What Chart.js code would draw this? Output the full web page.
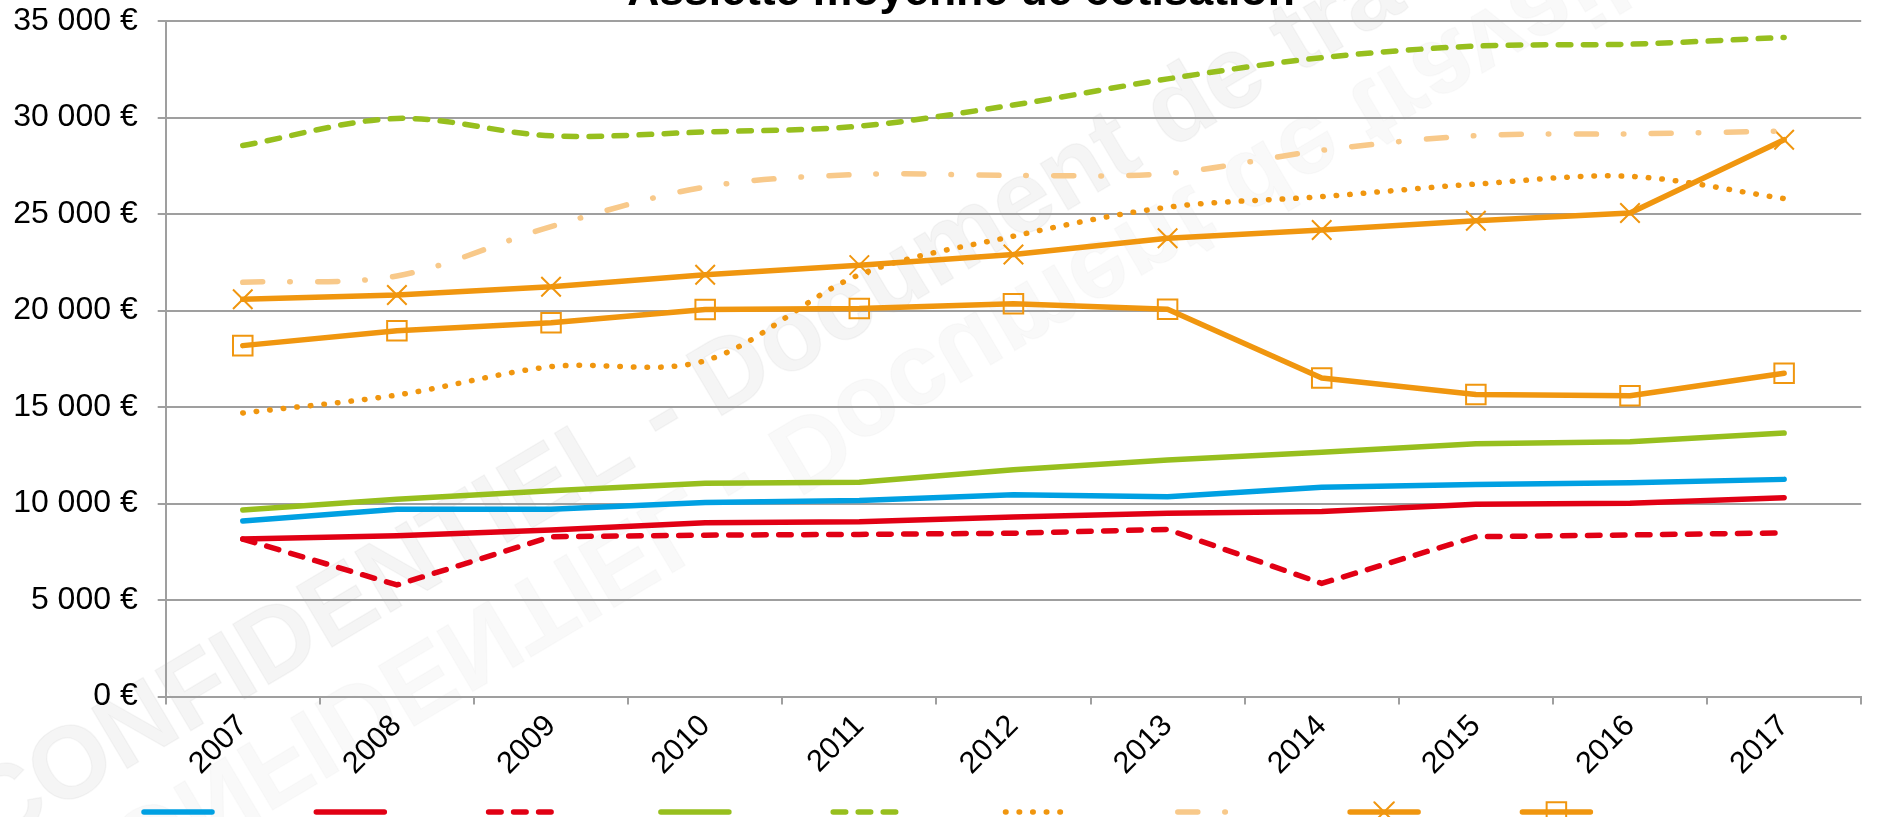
<!DOCTYPE html>
<html>
<head>
<meta charset="utf-8">
<script src="https://cdn.jsdelivr.net/npm/chart.js@4.4.0/dist/chart.umd.min.js"></script>
<style>
  html, body { margin: 0; padding: 0; background: #fff; overflow: hidden; width: 1877px; height: 817px; }
  #wrap { position: absolute; left: 0; top: -40px; width: 1877px; height: 857px; }
  canvas { display: block; }
</style>
</head>
<body>
<div id="wrap"><canvas id="chart" width="1877" height="857" style="width:1877px;height:857px"></canvas></div>
<script>
// ---------- DATA ----------
const categories = ['2007', '2008', '2009', '2010', '2011', '2012', '2013', '2014', '2015', '2016', '2017'];

const serieBleue        = [9090, 9700, 9700, 10050, 10150, 10450, 10350, 10840, 10990, 11080, 11250];
const serieRouge        = [8160, 8330, 8630, 9000, 9050, 9300, 9490, 9580, 9960, 10010, 10300];
const serieRougeTirets  = [8160, 5780, 8280, 8360, 8400, 8460, 8660, 5860, 8280, 8370, 8480];
const serieVerte        = [9660, 10220, 10660, 11050, 11100, 11750, 12250, 12650, 13100, 13200, 13650];
const serieVerteTirets  = [28550, 29950, 29050, 29250, 29550, 30650, 32000, 33100, 33700, 33800, 34150];
const serieOrangePoints = [14690, 15620, 17090, 17400, 21850, 23850, 25350, 25900, 26550, 26950, 25800];
const serieOrangeClair  = [21460, 21790, 24350, 26400, 27050, 27000, 27100, 28300, 29060, 29150, 29300];
const serieOrangeCroix  = [20580, 20800, 21230, 21850, 22350, 22900, 23740, 24170, 24650, 25050, 28850];
const serieOrangeCarres = [18180, 18950, 19370, 20050, 20100, 20350, 20060, 16500, 15650, 15580, 16750];

const yMin = 0, yMax = 35000, yStep = 5000;
const titre = 'Assiette moyenne de cotisation';
const filigrane = 'CONFIDENTIEL - Document de travail';

// ---------- STYLE ----------
const FONT = '"Liberation Sans", Arial, Helvetica, sans-serif';
const GRID = '#9f9f9f';
const BLUE = '#00A0E2', RED = '#E10014', GREEN = '#97BF1E', ORANGE = '#F0960F', LORANGE = '#F8C98A';
const LW = 5.5;

function ds(label, data, color, extra) {
  return Object.assign({
    label: label,
    data: data,
    borderColor: color,
    backgroundColor: color,
    borderWidth: LW,
    borderCapStyle: 'round',
    borderJoinStyle: 'round',
    pointRadius: 0,
    pointStyle: false,
    tension: 0,
    fill: false
  }, extra || {});
}

const datasets = [
  ds('Série 1', serieBleue, BLUE),
  ds('Série 2', serieRouge, RED),
  ds('Série 3', serieRougeTirets, RED, { borderDash: [12.5, 12.5] }),
  ds('Série 4', serieVerte, GREEN),
  ds('Série 5', serieVerteTirets, GREEN, { borderDash: [12.5, 12.5], tension: 0.33 }),
  ds('Série 6', serieOrangePoints, ORANGE, { borderDash: [0.5, 13.1], tension: 0.33 }),
  ds('Série 7', serieOrangeClair, LORANGE, { borderDash: [20, 27, 0.5, 27.5], tension: 0.33 }),
  ds('Série 8', serieOrangeCroix, ORANGE, { pointStyle: 'crossRot', pointRadius: 13.8, pointBorderWidth: 2, pointBorderColor: ORANGE, pointBackgroundColor: 'rgba(0,0,0,0)' }),
  ds('Série 9', serieOrangeCarres, ORANGE, { pointStyle: 'rect', pointRadius: 13.8, pointBorderWidth: 2, pointBorderColor: ORANGE, pointBackgroundColor: 'rgba(0,0,0,0)' })
];

function fmtEuro(v) {
  return String(v).replace(/\B(?=(\d{3})+(?!\d))/g, ' ') + ' €';
}

// background + watermark
const bgPlugin = {
  id: 'bg',
  beforeDraw(chart) {
    const ctx = chart.ctx;
    ctx.save();
    ctx.fillStyle = '#ffffff';
    ctx.fillRect(0, 0, chart.width, chart.height);
    ctx.translate(-10, 890);
    ctx.rotate(-30.7 * Math.PI / 180);
    ctx.font = 'bold 102px ' + FONT;
    ctx.textBaseline = 'alphabetic';
    ctx.textAlign = 'left';
    ctx.fillStyle = 'rgba(0,0,0,0.04)';
    ctx.strokeStyle = 'rgba(0,0,0,0.035)';
    ctx.lineWidth = 1.5;
    ctx.fillText(filigrane, 0, 0);
    ctx.strokeText(filigrane, 0, 0);
    // faint reflected copy
    ctx.translate(30, 40);
    ctx.scale(1, -1);
    ctx.fillStyle = 'rgba(0,0,0,0.025)';
    ctx.strokeStyle = 'rgba(0,0,0,0.02)';
    ctx.fillText(filigrane, 0, 0);
    ctx.strokeText(filigrane, 0, 0);
    ctx.restore();
  }
};

// shift the title block so it is centred like the reference
const titleShift = {
  id: 'titleShift',
  afterLayout(chart) {
    const t = chart.titleBlock;
    if (t) { t.left += 26; t.right += 26; }
  }
};

// legend samples (line + marker, no text)
const legendPlugin = {
  id: 'legendLines',
  afterDraw(chart) {
    const ctx = chart.ctx;
    const start = 178, step = 172.3, half = 37;
    const cy = chart.height - 5;
    chart.data.datasets.forEach((d, i) => {
      const cx = start + i * step;
      ctx.save();
      ctx.strokeStyle = d.borderColor;
      ctx.lineWidth = d.borderWidth;
      ctx.lineCap = 'round';
      ctx.setLineDash(d.borderDash || []);
      ctx.beginPath();
      ctx.moveTo(cx - half + 3, cy);
      ctx.lineTo(cx + half - 3, cy);
      ctx.stroke();
      ctx.setLineDash([]);
      if (d.pointStyle) {
        ctx.strokeStyle = d.pointBorderColor;
        ctx.fillStyle = 'rgba(0,0,0,0)';
        ctx.lineWidth = d.pointBorderWidth;
        Chart.helpers.drawPoint(ctx, {
          pointStyle: d.pointStyle, radius: d.pointRadius, rotation: 0, borderWidth: d.pointBorderWidth
        }, cx, cy);
      }
      ctx.restore();
    });
  }
};

new Chart(document.getElementById('chart'), {
  type: 'line',
  data: { labels: categories, datasets: datasets },
  plugins: [bgPlugin, titleShift, legendPlugin],
  options: {
    responsive: false,
    animation: false,
    events: [],
    layout: { padding: { left: 0, right: 7, top: 0, bottom: 0 } },
    plugins: {
      legend: { display: false },
      tooltip: { enabled: false },
      title: {
        display: true,
        text: titre,
        color: '#000',
        font: { family: FONT, size: 44.5, weight: 'bold', lineHeight: 1 },
        padding: { top: 10.85, bottom: 5.65 }
      }
    },
    scales: {
      x: {
        type: 'category',
        offset: true,
        grid: { offset: true, drawOnChartArea: false, drawTicks: true, tickLength: 8, color: GRID, lineWidth: 2 },
        border: { color: GRID, width: 2 },
        ticks: {
          minRotation: 45, maxRotation: 45, autoSkip: false, padding: 3.6,
          color: '#000', font: { family: FONT, size: 30.5 }
        },
        afterFit(scale) { scale.height = 120.5; }
      },
      y: {
        min: yMin, max: yMax,
        grid: { color: GRID, lineWidth: 2, drawTicks: true, tickLength: 8 },
        border: { color: GRID, width: 2 },
        ticks: {
          stepSize: yStep, padding: 20, color: '#000',
          font: { family: FONT, size: 32 },
          callback: (v) => fmtEuro(v)
        },
        afterFit(scale) { scale.width = 165.7; }
      }
    }
  }
});
</script>
</body>
</html>
